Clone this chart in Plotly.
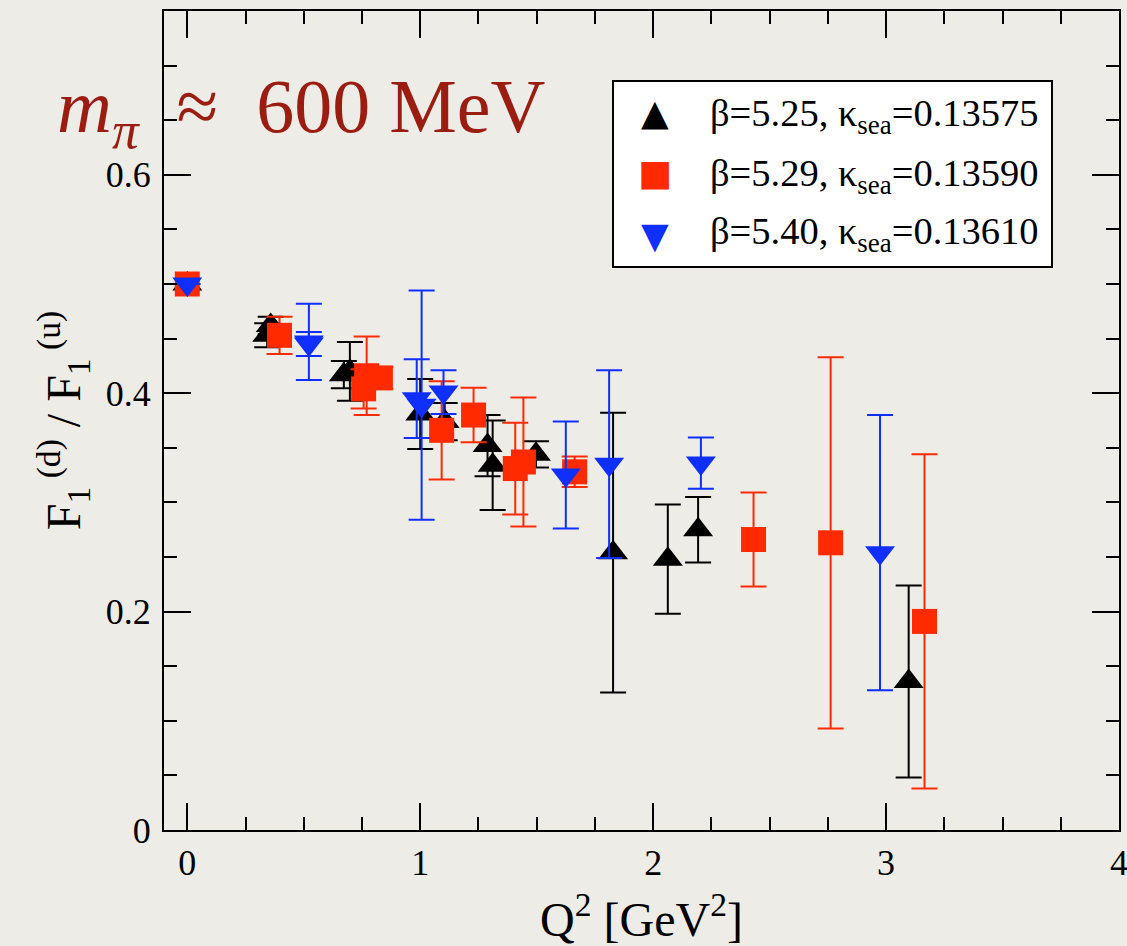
import plotly.graph_objects as go

# ---- data ----
black_x = [0.0, 0.343, 0.358, 0.672, 0.698, 1.000, 1.105, 1.289, 1.311, 1.497, 1.828, 2.063, 2.193, 3.097]
black_y = [0.500, 0.453, 0.462, 0.417, 0.420, 0.381, 0.374, 0.352, 0.334, 0.344, 0.254, 0.248, 0.275, 0.136]
black_err = [0.0, 0.011, 0.008, 0.0125, 0.027, 0.032, 0.017, 0.028, 0.041, 0.012, 0.128, 0.050, 0.030, 0.088]

red_x = [0.0, 0.396, 0.757, 0.770, 0.829, 1.092, 1.229, 1.408, 1.443, 1.663, 2.431, 2.762, 3.165]
red_y = [0.500, 0.453, 0.404, 0.416, 0.414, 0.366, 0.380, 0.331, 0.337, 0.328, 0.266, 0.263, 0.191]
red_err = [0.0, 0.017, 0.018, 0.036, 0.010, 0.045, 0.025, 0.042, 0.059, 0.014, 0.043, 0.170, 0.153]

blue_x = [0.0, 0.522, 0.522, 0.985, 1.006, 1.100, 1.625, 1.811, 2.205, 2.974]
blue_y = [0.500, 0.447, 0.445, 0.395, 0.389, 0.401, 0.325, 0.335, 0.336, 0.254]
blue_err = [0.0, 0.035, 0.011, 0.036, 0.105, 0.020, 0.049, 0.086, 0.0235, 0.126]

series_names = ["β=5.25, κ<sub>sea</sub>=0.13575",
                "β=5.29, κ<sub>sea</sub>=0.13590",
                "β=5.40, κ<sub>sea</sub>=0.13610"]
x_ticks = [0, 1, 2, 3, 4]
y_ticks = [0, 0.2, 0.4, 0.6]

BLACK = "#000000"
RED = "#ff2a00"
BLUE = "#0f2fff"
TITLE_RED = "#9b1c10"
BG = "#eeece7"
SERIF = "Liberation Serif"

fig = go.Figure()

def add_series(x, y, err, color, symbol, size, name):
    fig.add_trace(go.Scatter(
        x=x, y=y, mode="markers", name=name, showlegend=False,
        marker=dict(symbol=symbol, size=size, color=color, line=dict(width=0)),
        error_y=dict(type="data", array=err, visible=True, color=color,
                     thickness=2, width=13),
    ))

add_series(black_x, black_y, black_err, BLACK, "triangle-up", 26, series_names[0])
add_series(red_x, red_y, red_err, RED, "square", 25, series_names[1])
add_series(blue_x, blue_y, blue_err, BLUE, "triangle-down", 26, series_names[2])

axis_common = dict(
    showline=True, linecolor="black", linewidth=2, mirror="ticks",
    ticks="inside", ticklen=27, tickwidth=2, tickcolor="black",
    showgrid=False, zeroline=False, automargin=False,
    ticklabeloverflow="allow",
    tickfont=dict(family=SERIF, size=36, color="black"),
)

fig.update_xaxes(
    range=[-0.1, 4.0], tickmode="array", tickvals=x_ticks,
    ticktext=[str(v) for v in x_ticks],
    minor=dict(dtick=0.25, tick0=0, ticks="inside", ticklen=13, tickwidth=2,
               tickcolor="black", showgrid=False),
    title=dict(text="Q<sup>2</sup> [GeV<sup>2</sup>]",
               font=dict(family=SERIF, size=48, color="black"), standoff=20),
    **axis_common,
)
fig.update_yaxes(
    range=[0, 0.75], tickmode="array", tickvals=y_ticks,
    ticktext=["0", "0.2", "0.4", "0.6"],
    minor=dict(dtick=0.05, tick0=0, ticks="inside", ticklen=13, tickwidth=2,
               tickcolor="black", showgrid=False),
    title=dict(text="F<sub>1</sub><sup> (d)</sup> / F<sub>1</sub><sup> (u)</sup>",
               font=dict(family=SERIF, size=48, color="black"), standoff=10),
    ticklabelstandoff=4,
    **axis_common,
)

# legend box (drawn manually so symbols keep their full size)
L, R, T, B = 164.0, 1119.0, 11.0, 830.0
def px(xp):
    return (xp - L) / (R - L)
def py(yp):
    return (B - yp) / (B - T)

fig.add_shape(type="rect", xref="paper", yref="paper",
              x0=px(613), x1=px(1052), y0=py(267), y1=py(81),
              line=dict(color="black", width=2), fillcolor="white", layer="above")

legend_rows = [(BLACK, "▲", 112, 110), (RED, "■", 173, 170), (BLUE, "▼", 235, 228)]
for (col, glyph, ysym, ytxt), name in zip(legend_rows, series_names):
    fig.add_annotation(xref="paper", yref="paper", x=px(655), y=py(ysym),
                       text=glyph, showarrow=False, xanchor="center", yanchor="middle",
                       font=dict(family="DejaVu Sans", size=36, color=col))
    fig.add_annotation(xref="paper", yref="paper", x=px(708), y=py(ytxt + 6),
                       text=name, showarrow=False, xanchor="left", yanchor="middle",
                       font=dict(family=SERIF, size=38.5, color="black"))

fig.add_annotation(xref="paper", yref="paper", x=px(55), y=py(112),
                   text="<i>m</i><sub><i>π</i></sub>&nbsp;&nbsp;≈&nbsp;&nbsp;600 MeV",
                   showarrow=False, xanchor="left", yanchor="middle",
                   font=dict(family=SERIF, size=76, color=TITLE_RED))

fig.update_layout(
    width=1127, height=946,
    margin=dict(l=164, r=8, t=11, b=116, pad=0),
    paper_bgcolor=BG, plot_bgcolor=BG,
    showlegend=False,
)

fig.write_html("out.html", config={"displayModeBar": False},
               post_script="document.body.style.margin='0';")
